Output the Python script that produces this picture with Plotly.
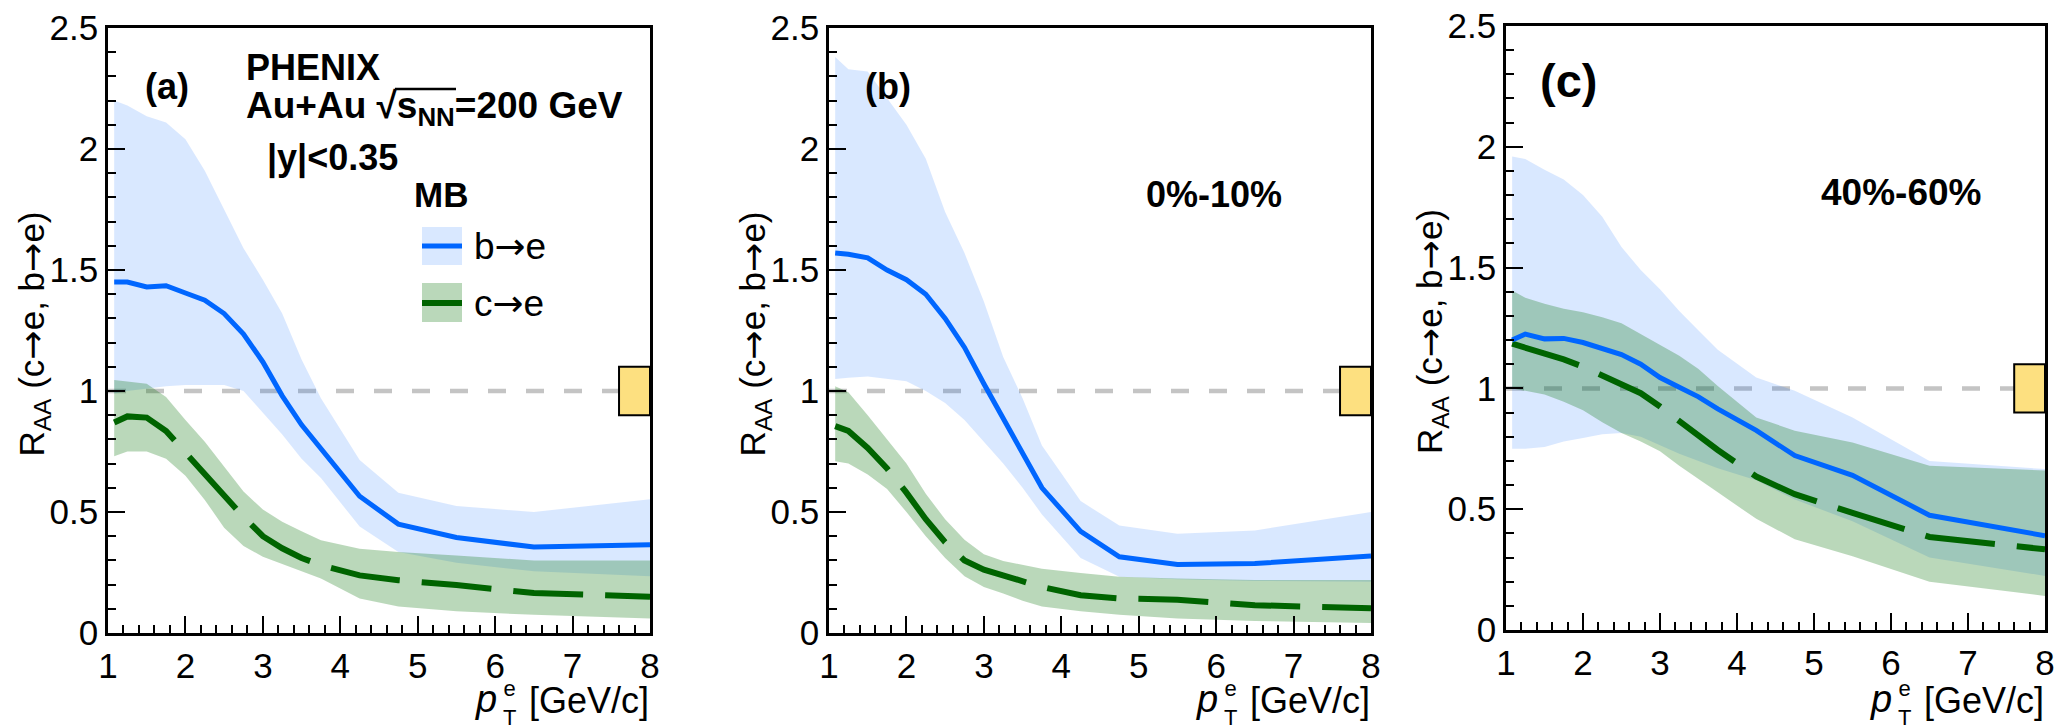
import plotly.graph_objects as go

W, H = 2055, 728
FONT = "Liberation Sans"

# ---------------- data ----------------
PT = [1.08, 1.25, 1.5, 1.75, 2.0, 2.25, 2.5, 2.75, 3.0, 3.25, 3.5, 3.75, 4.25, 4.75, 5.5, 6.5, 8.0]

# panel (a): MB
A_B_MID = [1.45, 1.45, 1.43, 1.435, 1.405, 1.375, 1.32, 1.235, 1.12, 0.98, 0.86, 0.76, 0.565, 0.45, 0.395, 0.355, 0.365]
A_B_HI = [2.20, 2.18, 2.135, 2.11, 2.04, 1.91, 1.75, 1.59, 1.46, 1.32, 1.13, 0.97, 0.715, 0.58, 0.525, 0.50, 0.553]
A_B_LO = [0.99, 1.00, 1.01, 1.02, 1.025, 1.025, 1.025, 1.0, 0.91, 0.82, 0.72, 0.64, 0.44, 0.335, 0.29, 0.255, 0.235]
A_C_MID = [0.87, 0.895, 0.89, 0.835, 0.745, 0.655, 0.565, 0.48, 0.40, 0.35, 0.31, 0.28, 0.238, 0.218, 0.198, 0.165, 0.15]
A_C_HI = [1.045, 1.04, 1.03, 0.975, 0.88, 0.79, 0.685, 0.585, 0.51, 0.46, 0.42, 0.383, 0.348, 0.335, 0.32, 0.30, 0.30]
A_C_LO = [0.73, 0.75, 0.75, 0.72, 0.65, 0.55, 0.435, 0.36, 0.315, 0.283, 0.255, 0.225, 0.143, 0.11, 0.09, 0.075, 0.06]

# panel (b): 0%-10%
B_B_MID = [1.57, 1.565, 1.55, 1.50, 1.46, 1.40, 1.30, 1.18, 1.03, 0.89, 0.74, 0.60, 0.42, 0.315, 0.283, 0.287, 0.318]
B_B_HI = [2.38, 2.33, 2.32, 2.21, 2.10, 1.96, 1.74, 1.57, 1.37, 1.14, 0.97, 0.775, 0.545, 0.444, 0.41, 0.424, 0.50]
B_B_LO = [1.05, 1.055, 1.06, 1.05, 1.04, 1.0, 0.95, 0.88, 0.79, 0.70, 0.60, 0.49, 0.31, 0.232, 0.222, 0.215, 0.212]
B_C_MID = [0.855, 0.835, 0.765, 0.68, 0.58, 0.47, 0.375, 0.30, 0.262, 0.238, 0.21, 0.19, 0.156, 0.143, 0.137, 0.115, 0.102]
B_C_HI = [1.02, 0.995, 0.90, 0.80, 0.70, 0.575, 0.47, 0.385, 0.325, 0.298, 0.28, 0.265, 0.248, 0.232, 0.225, 0.219, 0.219]
B_C_LO = [0.71, 0.70, 0.655, 0.595, 0.50, 0.40, 0.31, 0.235, 0.19, 0.163, 0.133, 0.11, 0.09, 0.075, 0.06, 0.05, 0.041]

# panel (c): 40%-60%
C_B_MID = [1.20, 1.225, 1.205, 1.207, 1.19, 1.165, 1.14, 1.10, 1.045, 1.005, 0.965, 0.915, 0.826, 0.722, 0.64, 0.475, 0.39]
C_B_HI = [1.96, 1.95, 1.905, 1.865, 1.80, 1.71, 1.585, 1.49, 1.41, 1.32, 1.24, 1.16, 1.045, 0.99, 0.88, 0.70, 0.666]
C_B_LO = [0.75, 0.75, 0.757, 0.78, 0.795, 0.81, 0.815, 0.80, 0.765, 0.73, 0.70, 0.67, 0.62, 0.54, 0.45, 0.30, 0.224]
C_C_MID = [1.185, 1.17, 1.145, 1.12, 1.09, 1.055, 1.02, 0.98, 0.925, 0.865, 0.805, 0.745, 0.635, 0.562, 0.485, 0.385, 0.334]
C_C_HI = [1.405, 1.375, 1.35, 1.33, 1.315, 1.295, 1.27, 1.225, 1.18, 1.135, 1.08, 1.01, 0.88, 0.825, 0.776, 0.68, 0.66]
C_C_LO = [1.0, 0.99, 0.975, 0.945, 0.91, 0.86, 0.815, 0.78, 0.74, 0.68, 0.625, 0.57, 0.46, 0.376, 0.305, 0.20, 0.141]

X_RANGE = [1, 8]
Y_RANGE = [0, 2.5]
X_TICKS = [1, 2, 3, 4, 5, 6, 7, 8]
Y_TICKS = [0, 0.5, 1, 1.5, 2, 2.5]
Y_TICKTEXT = ["0", "0.5", "1", "1.5", "2", "2.5"]
REF_LEVEL = 1.0
NORM_LO, NORM_HI = 0.9, 1.1
NORM_X0, NORM_X1 = 7.6, 8.0

PANELS = [
    dict(tag="(a)", xa="x", ya="y",
         b=(A_B_MID, A_B_HI, A_B_LO), c=(A_C_MID, A_C_HI, A_C_LO),
         box=(108, 650, 28, 633)),
    dict(tag="(b)", xa="x2", ya="y2",
         b=(B_B_MID, B_B_HI, B_B_LO), c=(B_C_MID, B_C_HI, B_C_LO),
         box=(829, 1371, 28, 633)),
    dict(tag="(c)", xa="x3", ya="y3",
         b=(C_B_MID, C_B_HI, C_B_LO), c=(C_C_MID, C_C_HI, C_C_LO),
         box=(1506, 2045, 26, 630)),
]

BLUE = "rgb(0,102,255)"
BLUE_FILL = "rgba(0,100,255,0.15)"
GREEN = "rgb(0,100,0)"
GREEN_FILL = "rgba(0,110,0,0.27)"
GRAY = "rgb(196,196,196)"
YELLOW = "rgb(253,224,128)"
ARROW = "<span style='font-family:DejaVu Sans'>\u2192</span>"


def PX(x):
    return x / W


def PY(y):
    return 1 - y / H


fig = go.Figure()

for p in PANELS:
    xa, ya = p["xa"], p["ya"]
    fig.add_trace(go.Scatter(x=X_RANGE, y=[REF_LEVEL, REF_LEVEL], mode="lines", xaxis=xa, yaxis=ya,
                             line=dict(color=GRAY, width=4.5, dash="18px,20px"),
                             showlegend=False, hoverinfo="skip"))
    bm, bh, bl = p["b"]
    cm, ch, cl = p["c"]
    fig.add_trace(go.Scatter(x=PT + PT[::-1], y=bh + bl[::-1], mode="lines", fill="toself",
                             fillcolor=BLUE_FILL, line=dict(width=0), xaxis=xa, yaxis=ya,
                             showlegend=False, hoverinfo="skip"))
    fig.add_trace(go.Scatter(x=PT + PT[::-1], y=ch + cl[::-1], mode="lines", fill="toself",
                             fillcolor=GREEN_FILL, line=dict(width=0), xaxis=xa, yaxis=ya,
                             showlegend=False, hoverinfo="skip"))
    fig.add_trace(go.Scatter(x=PT, y=cm, mode="lines", xaxis=xa, yaxis=ya,
                             line=dict(color=GREEN, width=6, dash="70px,22px"),
                             showlegend=False, hoverinfo="skip"))
    fig.add_trace(go.Scatter(x=PT, y=bm, mode="lines", xaxis=xa, yaxis=ya,
                             line=dict(color=BLUE, width=5),
                             showlegend=False, hoverinfo="skip"))

axis_common = dict(showline=True, linecolor="black", linewidth=2.5, mirror=True,
                   ticks="inside", tickcolor="black", tickwidth=2, ticklen=17,
                   showgrid=False, zeroline=False, automargin=False,
                   tickfont=dict(family=FONT, size=35, color="black"))

layout_axes = {}
for i, p in enumerate(PANELS):
    l, r, t, b = p["box"]
    sfx = "" if i == 0 else str(i + 1)
    layout_axes["xaxis" + sfx] = dict(axis_common, range=X_RANGE, tickvals=X_TICKS,
                                      ticktext=[str(v) for v in X_TICKS],
                                      domain=[PX(l), PX(r)], anchor="y" + sfx,
                                      minor=dict(dtick=0.2, tick0=1, ticklen=8, tickwidth=2,
                                                 ticks="inside", tickcolor="black"))
    layout_axes["yaxis" + sfx] = dict(axis_common, range=Y_RANGE, tickvals=Y_TICKS,
                                      ticktext=Y_TICKTEXT,
                                      domain=[PY(b), PY(t)], anchor="x" + sfx,
                                      minor=dict(dtick=0.1, tick0=0, ticklen=8, tickwidth=2,
                                                 ticks="inside", tickcolor="black"))

annotations = []
shapes = []


def txt(text, x, y, size, xanchor="left", yanchor="middle", angle=0):
    annotations.append(dict(text=text, x=PX(x), y=PY(y), xref="paper", yref="paper",
                            showarrow=False, xanchor=xanchor, yanchor=yanchor, textangle=angle,
                            font=dict(family=FONT, size=size, color="black")))


for i, p in enumerate(PANELS):
    l, r, t, b = p["box"]
    txt("R<sub>AA</sub> (c" + ARROW + "e, b" + ARROW + "e)", l - 74, (t + b) / 2 + 4, 35,
        xanchor="center", angle=-90)
    txt("[GeV/c]", r + 1, 700, 36, xanchor="right")
    txt("<i>p</i>", r - 151, 699, 38, xanchor="right")
    txt("e<br>T", r - 149, 732, 22, yanchor="bottom")
    shapes.append(dict(type="rect", xref=p["xa"], yref=p["ya"], x0=NORM_X0, x1=NORM_X1,
                       y0=NORM_LO, y1=NORM_HI, fillcolor=YELLOW,
                       line=dict(color="black", width=2), layer="above"))

txt("<b>(a)</b>", 143, 86, 36)
txt("<b>(b)</b>", 863, 86, 36)
txt("<b>(c)</b>", 1538, 80, 47)
txt("<b>0%-10%</b>", 1144, 195, 36)
txt("<b>40%-60%</b>", 1819, 193, 37)

txt("<b>PHENIX</b>", 244, 67, 36)
txt("<b>Au+Au \u221As<sub>NN</sub>=200 GeV</b>", 244, 108, 37)
txt("<b>|y|<0.35</b>", 265, 158, 36)
txt("<b>MB</b>", 412, 195, 35)
txt("b" + ARROW + "e", 472, 246, 37)
txt("c" + ARROW + "e", 472, 303, 37)

# overline of the square root
shapes.append(dict(type="line", xref="paper", yref="paper", x0=PX(395), x1=PX(456),
                   y0=PY(89), y1=PY(89), line=dict(color="black", width=2.5)))

# legend boxes
shapes.append(dict(type="rect", xref="paper", yref="paper", x0=PX(422), x1=PX(462),
                   y0=PY(265), y1=PY(227), fillcolor=BLUE_FILL, line=dict(width=0)))
shapes.append(dict(type="line", xref="paper", yref="paper", x0=PX(422), x1=PX(462),
                   y0=PY(246), y1=PY(246), line=dict(color=BLUE, width=5)))
shapes.append(dict(type="rect", xref="paper", yref="paper", x0=PX(422), x1=PX(462),
                   y0=PY(322), y1=PY(283), fillcolor=GREEN_FILL, line=dict(width=0)))
shapes.append(dict(type="line", xref="paper", yref="paper", x0=PX(422), x1=PX(462),
                   y0=PY(303), y1=PY(303), line=dict(color=GREEN, width=6)))

fig.update_layout(template="none", width=W, height=H, margin=dict(l=0, r=0, t=0, b=0, pad=0),
                  paper_bgcolor="white", plot_bgcolor="white",
                  annotations=annotations, shapes=shapes, showlegend=False,
                  **layout_axes)

fig.write_html("out.html")
